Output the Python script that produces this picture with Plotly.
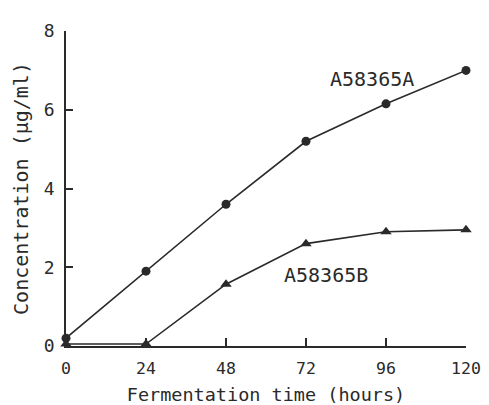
import plotly.graph_objects as go

hours = [0, 24, 48, 72, 96, 120]
a58365a = [0.2, 1.9, 3.6, 5.2, 6.15, 7.0]
a58365b = [0.05, 0.05, 1.57, 2.6, 2.9, 2.95]
x_ticks = [0, 24, 48, 72, 96, 120]
y_ticks = [0, 2, 4, 6, 8]

ink = "#2a2a2a"
font = "DejaVu Sans Mono"

fig = go.Figure()
fig.add_trace(go.Scatter(x=hours, y=a58365a, mode="lines+markers",
                         line=dict(color=ink, width=1.6),
                         marker=dict(symbol="circle", size=9, color=ink),
                         cliponaxis=False, showlegend=False))
fig.add_trace(go.Scatter(x=hours, y=a58365b, mode="lines+markers",
                         line=dict(color=ink, width=1.6),
                         marker=dict(symbol="triangle-up", size=10, color=ink),
                         cliponaxis=False, showlegend=False))

fig.add_annotation(x=91.8, y=6.77, text="A58365A", showarrow=False,
                   font=dict(family=font, size=20, color=ink))
fig.add_annotation(x=78.0, y=1.8, text="A58365B", showarrow=False,
                   font=dict(family=font, size=20, color=ink))

fig.update_layout(
    width=481, height=397,
    margin=dict(l=54, r=23, t=14, b=59),
    paper_bgcolor="white", plot_bgcolor="white",
    font=dict(family=font, size=18, color=ink),
)
fig.update_xaxes(range=[0, 120], tickvals=x_ticks, ticks="inside", ticklen=8,
                 tickwidth=1.5, tickcolor=ink, showline=True, linecolor=ink,
                 linewidth=1.8, showgrid=False, zeroline=False,
                 automargin=False, ticklabelstandoff=6,
                 ticklabeloverflow="allow", tickfont=dict(size=16.5),
                 title=dict(text="Fermentation time (hours)",
                            font=dict(size=18.5)))
fig.update_yaxes(range=[0, 8], tickvals=y_ticks, ticks="inside", ticklen=7,
                 tickwidth=1.5, tickcolor=ink, showline=True, linecolor=ink,
                 linewidth=1.8, showgrid=False, zeroline=False,
                 automargin=True, ticklabelstandoff=6, tickfont=dict(size=18),
                 title=dict(text="Concentration (μg/ml)", standoff=10,
                            font=dict(size=20)))

fig.write_html("out.html")
